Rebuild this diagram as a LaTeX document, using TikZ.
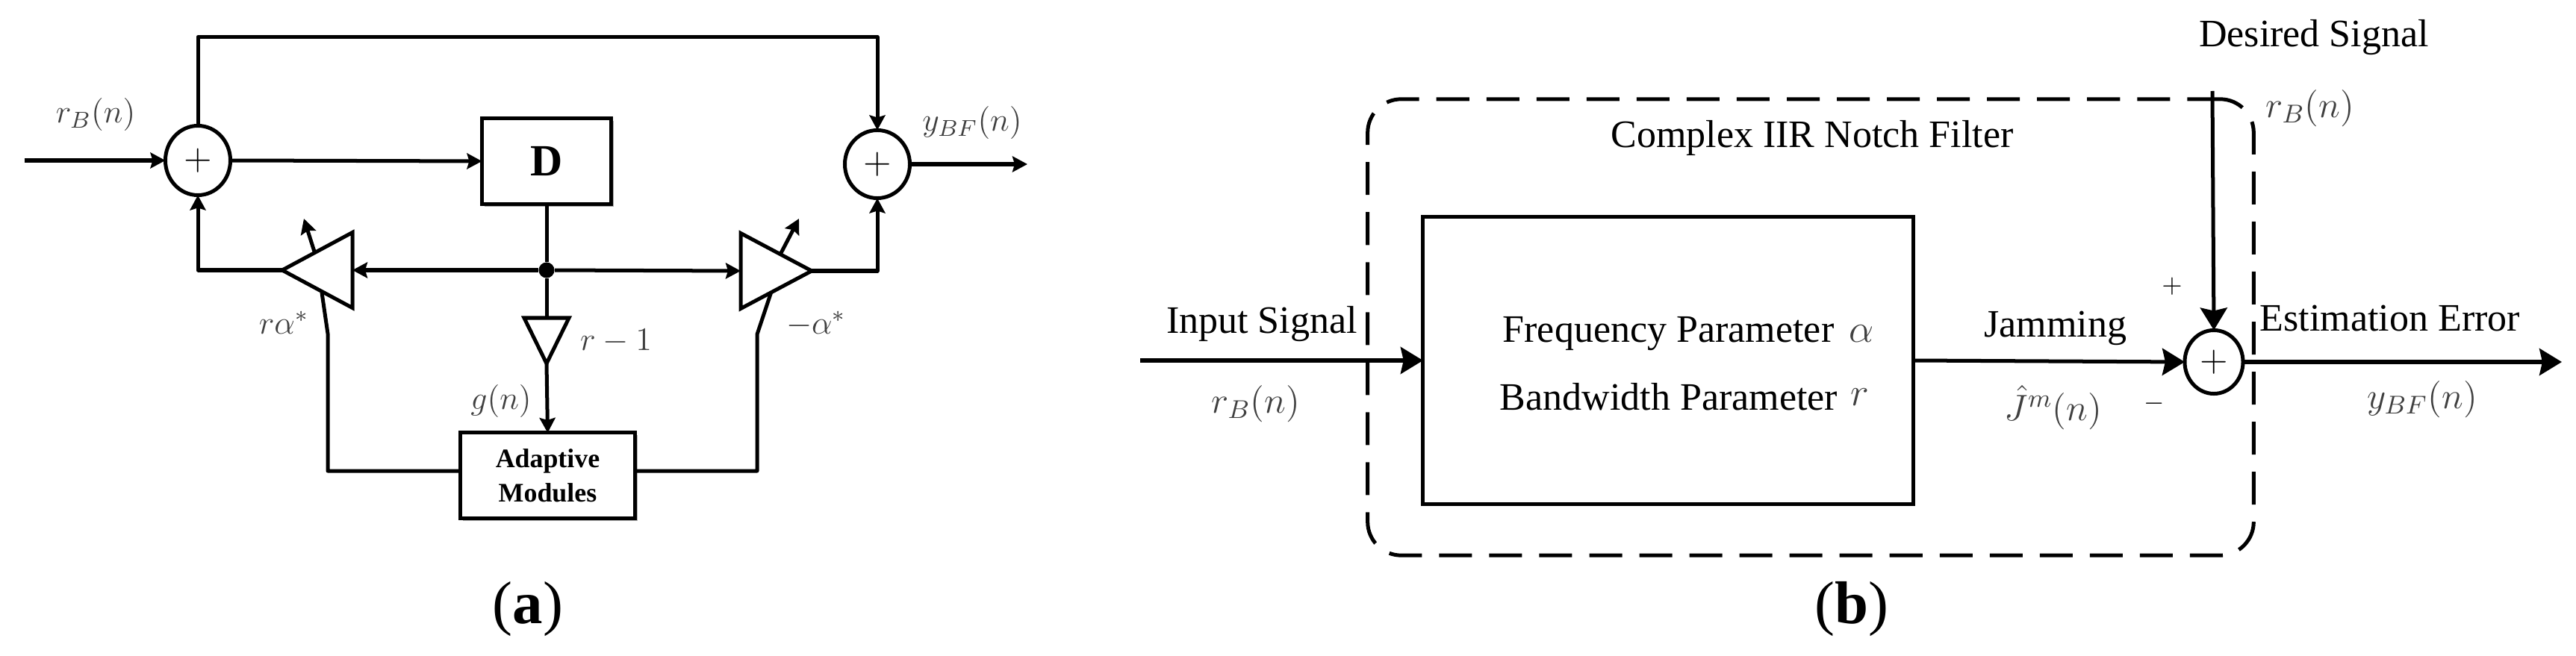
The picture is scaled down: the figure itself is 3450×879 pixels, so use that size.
\documentclass[tikz,border=0pt]{standalone}
\usepackage{fix-cm}
\usepackage{fontspec}
\setmainfont{Liberation Serif}
\usetikzlibrary{arrows.meta, positioning, shapes, shadows}
\tikzstyle{block} = [rectangle, draw=black, fill=white, line width=0.05cm, inner sep=0pt, outer sep=0pt]
\tikzstyle{shadowed} = [drop shadow={shadow xshift=0.035cm, shadow yshift=-0.035cm, opacity=0.3, fill=black}]
\tikzstyle{adder} = [ellipse, draw=black, fill=white, line width=0.05cm, inner sep=0pt, outer sep=0pt, font=\fontsize{14pt}{16pt}\selectfont]
\tikzstyle{amp} = [isosceles triangle, isosceles triangle stretches, anchor=lower side, draw=black, fill=white, line width=0.05cm, inner sep=0pt, outer sep=0pt, line join=miter]
\tikzstyle{tap} = [circle, fill=black, minimum size=0.21cm, inner sep=0pt]
\tikzstyle{wire} = [line width=0.05cm, line join=round]
\tikzstyle{arrow} = [wire, -{Stealth[length=0.2cm, width=0.21cm, inset=0.03cm]}]
\tikzstyle{bigarrow} = [wire, -{Stealth[length=0.3cm, width=0.36cm, inset=0.04cm]}]
\tikzstyle{sym} = [text=black!75, inner sep=0pt, font=\fontsize{12.5pt}{15pt}\selectfont]
\tikzstyle{bigsym} = [sym, font=\fontsize{14pt}{16pt}\selectfont]
\tikzstyle{lab} = [inner sep=0pt, font=\fontsize{14.8pt}{18pt}\selectfont]
\tikzstyle{caption} = [inner sep=0pt, font=\fontsize{23pt}{26pt}\selectfont]

\begin{document}
\begin{tikzpicture}[x=0.01cm, y=-0.01cm]
	\useasboundingbox (0,0) rectangle (3450,879);

	% left diagram
	\node[adder, minimum width=0.87cm, minimum height=0.93cm] (suma) at (265,215) {$+$};
	\node[adder, minimum width=0.87cm, minimum height=0.91cm] (sumb) at (1175,220) {$+$};
	\node[block, shadowed, minimum width=1.73cm, minimum height=1.14cm, font=\fontsize{17pt}{20pt}\selectfont\bfseries] (delay) at (732,216) {D};
	\node[tap] (junction) at (732,362) {};
	\node[amp, shape border rotate=180, minimum height=0.94cm, minimum width=1.01cm] (ampl) at (472,362) {};
	\node[amp, minimum height=0.95cm, minimum width=1.01cm] (ampr) at (992,363) {};
	\node[amp, shape border rotate=270, minimum height=0.61cm, minimum width=0.6cm] (ampd) at (732,426) {};
	\node[block, shadowed, minimum width=2.33cm, minimum height=1.14cm, align=center, font=\fontsize{10.2pt}{13pt}\selectfont\bfseries] (modules) at (733.5,637) {Adaptive\\Modules};

	\coordinate (in) at (33,215);
	\coordinate (out) at (1376,220);
	\coordinate (gainlfrom) at (421,337);
	\coordinate (gainlto) at (407,293);
	\coordinate (gainrfrom) at (1046,339);
	\coordinate (gainrto) at (1070,293);
	\coordinate (ctrll) at (431,392);
	\coordinate (ctrlr) at (1033,391);

	\draw[arrow] (in) -- (suma.west);
	\draw[arrow] (suma.north) -- ++(0,-119) -| (sumb.north);
	\draw[arrow] (suma.east) -- (delay.west);
	\draw[wire] (delay.south) -- (junction);
	\draw[arrow] (junction) -- (ampl.lower side);
	\draw[arrow] (junction) -- (ampr.lower side);
	\draw[wire] (junction) -- (ampd.lower side);
	\draw[arrow] (ampd.apex) -- (modules.north);
	\draw[arrow] (ampl.apex) -| (suma.south);
	\draw[arrow] (ampr.apex) -| (sumb.south);
	\draw[arrow] (sumb.east) -- (out);
	\draw[arrow] (gainlfrom) -- (gainlto);
	\draw[arrow] (gainrfrom) -- (gainrto);

	% gain control lines
	\draw[wire] (modules.west |- 0,631) -- (439,631) -- (439,447) -- (ctrll);
	\draw[wire] (modules.east |- 0,631) -- (1014,631) -- (1014,448) -- (ctrlr);

	\node[sym] (rbin) at (128,154) {$r_B(n)$};
	\node[sym] (gl) at (380,432) {$r\alpha^{*}$};
	\node[sym] (gd) at (825,457) {$r-1$};
	\node[sym] (gn) at (671,538) {$g(n)$};
	\node[sym] (gr) at (1093,434) {$-\alpha^{*}$};
	\node[sym] (yout) at (1302,165) {$y_{BF}(n)$};
	\node[caption] (capa) at (707,816) {(\textbf{a})};

	% right diagram
	\node[block, fill=none, dash pattern=on 0.44cm off 0.23cm, rounded corners=0.45cm, minimum width=11.86cm, minimum height=6.11cm] (notch) at (2425,438.5) {};
	\node[block, fill=none, minimum width=6.56cm, minimum height=3.84cm] (filter) at (2234,483) {};
	\node[adder, minimum width=0.78cm, minimum height=0.85cm] (sumc) at (2965,485) {$+$};

	\coordinate (input) at (1527,483);
	\coordinate (desired) at (2963,122);
	\coordinate (error) at (3431,485);

	\draw[bigarrow] (input) -- (filter.west);
	\draw[bigarrow] (filter.east) -- (sumc.west);
	\draw[bigarrow] (desired) -- (sumc.north);
	\draw[bigarrow] (sumc.east) -- (error);

	\node[lab] (title) at (2427,185) {Complex IIR Notch Filter};
	\node[lab] (inlab) at (1690,434) {Input Signal};
	\node[lab, anchor=west] (freq) at (2012,447) {Frequency Parameter};
	\node[lab, anchor=west] (band) at (2008,532) {Bandwidth Parameter};
	\node[bigsym, font=\fontsize{15pt}{18pt}\selectfont] (alpha) at (2493,447) {$\alpha$};
	\node[bigsym, font=\fontsize{15pt}{18pt}\selectfont] (rr) at (2491,532) {$r$};
	\node[lab] (jam) at (2753,440) {Jamming};
	\node[lab] (des) at (3099,50) {Desired Signal};
	\node[lab] (est) at (3201,427) {Estimation Error};
	\node[bigsym] (rbleft) at (1682,541) {$r_B(n)$};
	\node[bigsym] (rbtop) at (3094,145) {$r_B(n)$};
	\node[bigsym] (jhat) at (2750,546) {$\hat{J}^{m}(n)$};
	\node[bigsym] (yerr) at (3244,535) {$y_{BF}(n)$};
	\node[inner sep=0pt, font=\fontsize{10pt}{12pt}\selectfont] (plus) at (2909,384) {$+$};
	\node[inner sep=0pt, font=\fontsize{10pt}{12pt}\selectfont] (minus) at (2885,541) {$-$};
	\node[caption] (capb) at (2480,816) {(\textbf{b})};
\end{tikzpicture}
\end{document}
